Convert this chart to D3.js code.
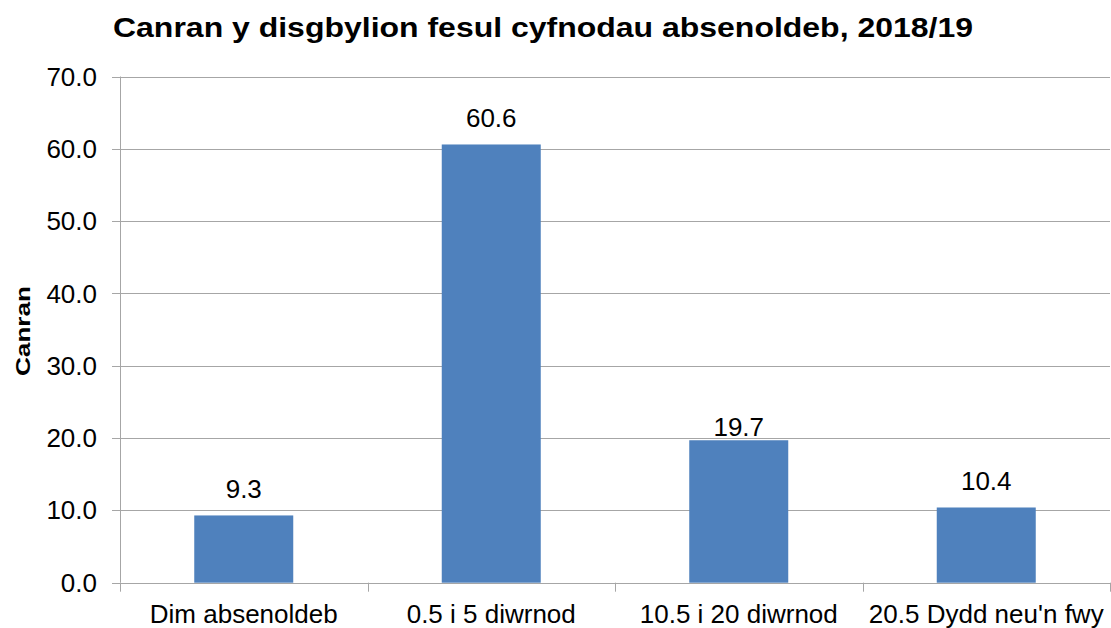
<!DOCTYPE html>
<html><head><meta charset="utf-8">
<script src="https://cdn.jsdelivr.net/npm/d3@7"></script>
<style>body{margin:0;background:#fff}svg{display:block}text{font-family:"Liberation Sans",Arial,sans-serif;fill:#000}</style>
</head><body>
<script>
const categories = ["Dim absenoldeb", "0.5 i 5 diwrnod", "10.5 i 20 diwrnod", "20.5 Dydd neu'n fwy"];
const values = [9.3, 60.6, 19.7, 10.4];
const yTicks = [0, 10, 20, 30, 40, 50, 60, 70];
const title = "Canran y disgbylion fesul cyfnodau absenoldeb, 2018/19";
const yLabel = "Canran";

const W = 1111, H = 628;
const m = {left: 120, right: 1, top: 76.5, bottom: 45.3};
const svg = d3.select("body").append("svg").attr("width", W).attr("height", H);
const x = d3.scaleBand().domain(categories).range([m.left, W - m.right]).paddingInner(0.6).paddingOuter(0.3);
const y = d3.scaleLinear().domain([0, 70]).range([H - m.bottom, m.top]);
const grid = "#a6a6a6";
// label placement style (one label sits lower in the original)
const labelGap = c => c === "10.5 i 20 diwrnod" ? 4 : 17;

// gridlines
svg.append("g").selectAll("line").data(yTicks).join("line")
  .attr("x1", m.left - 8).attr("x2", W - m.right)
  .attr("y1", d => Math.round(y(d)) + 0.5).attr("y2", d => Math.round(y(d)) + 0.5)
  .attr("stroke", grid).attr("stroke-width", 1);
// y axis line
svg.append("line").attr("x1", m.left + 0.5).attr("x2", m.left + 0.5)
  .attr("y1", y(70)).attr("y2", y(0)).attr("stroke", grid);
// y tick labels
svg.append("g").selectAll("text").data(yTicks).join("text")
  .attr("x", 97).attr("y", d => y(d)).attr("dy", "0.35em").attr("text-anchor", "end")
  .style("font-size", "26px").text(d => d3.format(".1f")(d));

// x boundary ticks
const bounds = d3.range(categories.length + 1).map(i => m.left + i * (W - m.right - m.left) / categories.length);
svg.append("g").selectAll("line").data(bounds).join("line")
  .attr("x1", d => Math.round(d) + 0.5).attr("x2", d => Math.round(d) + 0.5)
  .attr("y1", y(0)).attr("y2", y(0) + 9).attr("stroke", grid);

// bars
svg.append("g").selectAll("rect").data(values).join("rect")
  .attr("x", (d, i) => x(categories[i])).attr("width", x.bandwidth())
  .attr("y", d => y(d)).attr("height", d => y(0) - y(d)).attr("fill", "#4f81bd");

// value labels
svg.append("g").selectAll("text").data(values).join("text")
  .attr("x", (d, i) => x(categories[i]) + x.bandwidth() / 2).attr("y", (d, i) => y(d) - labelGap(categories[i]))
  .attr("text-anchor", "middle").style("font-size", "26px").text(d => d3.format(".1f")(d));

// category labels
svg.append("g").selectAll("text").data(categories).join("text")
  .attr("x", d => x(d) + x.bandwidth() / 2).attr("y", 623)
  .attr("text-anchor", "middle").style("font-size", "26px").text(d => d);

// title
svg.append("text").attr("x", 113).attr("y", 37)
  .attr("textLength", 860).attr("lengthAdjust", "spacingAndGlyphs")
  .style("font-size", "28px").style("font-weight", "bold").text(title);
// y label
svg.append("text").attr("transform", "translate(30,331) rotate(-90)").attr("text-anchor", "middle")
  .attr("textLength", 90).attr("lengthAdjust", "spacingAndGlyphs")
  .style("font-size", "20px").style("font-weight", "bold").text(yLabel);
</script>
</body></html>
